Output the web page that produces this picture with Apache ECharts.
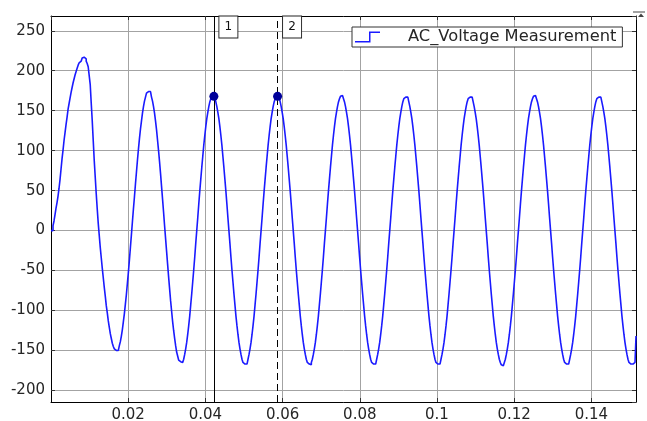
<!DOCTYPE html>
<html>
<head>
<meta charset="utf-8">
<script src="https://cdn.jsdelivr.net/npm/echarts@6/dist/echarts.min.js"></script>
<style>
  html, body { margin: 0; padding: 0; background: #fff; }
  #main { width: 647px; height: 421px; }
</style>
</head>
<body>
<div id="main"></div>
<script>
// scope trace, held samples (3840 samples per second)
var sampleTime = 0.00026042;
var voltage = [
  // start-up transient
  0, 0, 6, 12, 20, 28, 35, 43, 53, 64, 77, 90, 101, 113, 123, 133,
  142, 152, 159, 166, 173, 179, 185, 190, 195, 199, 203, 207, 210, 212, 214, 216,
  217, 217, 215, 212, 209, 205, 194, 183, 160, 138, 113, 88, 67, 46, 27, 9,
  -6, -21, -34, -47, -59, -71, -82, -94, -103, -113, -121, -129, -135, -141, -145, -148,
  -150, -151, -150, -148, -144, -139, -132, -124, -114, -104, -92, -80, -66, -52, -37, -21,
  -5, 11, 27, 42, 58, 73, 88, 102, 115, 127, 137, 147, 155, 162, 167, 172,
  174, 175, 174, 172, 167, 162, 155, 147, 137, 126, 113, 100, 86, 71, 55, 39,
  23, 6, -10, -26, -42, -58, -73, -88, -101, -114, -125, -135, -144, -152, -157, -162,
  -164, -166,
  // cycle 3
  -165, -164, -161, -155, -148, -140, -130, -119, -107, -93, -79, -64, -49, -33, -16,
  0, 16, 33, 49, 64, 79, 93, 107, 119, 130, 140, 148, 155, 161, 165, 167,
  168, 167, 165, 161, 155, 148, 140, 130, 119, 107, 93, 79, 64, 49, 33, 16,
  0, -16, -33, -49, -64, -79, -93, -107, -119, -130, -140, -148, -155, -161, -165, -167,
  // cycle 4
  -167, -167, -165, -161, -155, -148, -140, -130, -119, -107, -93, -79, -64, -49, -33, -16,
  0, 16, 33, 49, 64, 79, 93, 107, 119, 130, 140, 148, 155, 161, 165, 167,
  168, 167, 165, 161, 155, 148, 140, 130, 119, 107, 93, 79, 64, 49, 33, 16,
  0, -16, -33, -49, -64, -79, -93, -107, -119, -130, -140, -148, -155, -161, -165, -167,
  // cycle 5
  -169, -168, -165, -161, -155, -148, -140, -130, -119, -107, -93, -79, -64, -49, -33, -16,
  0, 16, 33, 49, 64, 79, 93, 107, 119, 130, 140, 148, 155, 161, 165, 168,
  169, 168, 165, 161, 155, 148, 140, 130, 119, 107, 93, 79, 64, 49, 33, 16,
  0, -16, -33, -49, -64, -79, -93, -107, -119, -130, -140, -148, -155, -161, -165, -167,
  // cycle 6
  -168, -167, -165, -161, -155, -148, -140, -130, -119, -107, -93, -79, -64, -49, -33, -16,
  0, 16, 33, 49, 64, 79, 93, 107, 119, 130, 140, 148, 155, 161, 165, 167,
  168, 167, 165, 161, 155, 148, 140, 130, 119, 107, 93, 79, 64, 49, 33, 16,
  0, -16, -33, -49, -64, -79, -93, -107, -119, -130, -140, -148, -155, -161, -165, -167,
  // cycle 7
  -168, -167, -165, -161, -155, -148, -140, -130, -119, -107, -93, -79, -64, -49, -33, -16,
  0, 16, 33, 49, 64, 79, 93, 107, 119, 130, 140, 148, 155, 161, 165, 167,
  168, 167, 165, 161, 155, 148, 140, 130, 119, 107, 93, 79, 64, 49, 33, 16,
  0, -16, -33, -49, -64, -79, -93, -107, -119, -130, -140, -148, -155, -161, -165, -168,
  // cycle 8
  -169, -168, -165, -161, -155, -148, -140, -130, -119, -107, -93, -79, -64, -49, -33, -16,
  0, 16, 33, 49, 64, 79, 93, 107, 119, 130, 140, 148, 155, 161, 165, 168,
  169, 168, 165, 161, 155, 148, 140, 130, 119, 107, 93, 79, 64, 49, 33, 16,
  0, -16, -33, -49, -64, -79, -93, -107, -119, -130, -140, -148, -155, -161, -165, -167,
  // cycle 9
  -167, -167, -165, -161, -155, -148, -140, -130, -119, -107, -93, -79, -64, -49, -33, -16,
  0, 16, 33, 49, 64, 79, 93, 107, 119, 130, 140, 148, 155, 161, 165, 167,
  168, 167, 165, 161, 155, 148, 140, 130, 119, 107, 93, 79, 64, 49, 33, 16,
  0, -16, -33, -49, -64, -79, -93, -107, -119, -130, -140, -148, -155, -161, -165, -167,
  // last trough and end of record
  -168, -167, -166, -165, -163, -132
];
var cursorTimes = [0.0422, 0.0587];
var cursorValues = [168, 168];
var cursorNames = ['1', '2'];
var seriesName = 'AC_Voltage Measurement';
var xRange = [0, 0.15156];
var yRange = [-214.5, 268.5];

var myChart = echarts.init(document.getElementById('main'));

var points = voltage.map(function (v, k) { return [k * sampleTime, v]; });
var font = 'DejaVu Sans';

function axisCommon(extra) {
  return Object.assign({
    type: 'value',
    axisLine: { show: true, onZero: false, lineStyle: { color: '#000', width: 1 } },
    axisTick: { show: true, inside: true, length: 4, lineStyle: { color: '#333' } },
    splitLine: { show: false }
  }, extra);
}

var option = {
  animation: false,
  backgroundColor: '#fff',
  grid: {
    left: 51, right: 11, top: 16, bottom: 19, show: false,
    containLabel: false, outerBoundsMode: 'none'
  },
  legend: {
    data: [seriesName],
    left: 352, top: 27,
    selectedMode: false,
    backgroundColor: '#fff',
    borderColor: '#333', borderWidth: 1, borderRadius: 0,
    padding: [2, 6, 2, 3],
    itemWidth: 25, itemHeight: 11,
    icon: 'path://M0,9.5L14,9.5L14,0L25,0L25,1.5L15.5,1.5L15.5,11L0,11Z',
    itemStyle: { borderWidth: 0 },
    textStyle: { fontFamily: font, fontSize: 16.3, color: '#262626', padding: [0, 0, 0, 23] }
  },
  xAxis: [
    axisCommon({
      position: 'bottom', min: xRange[0], max: xRange[1], interval: 0.02,
      splitLine: { show: true, lineStyle: { color: '#a3a3a3', width: 1 } },
      axisLabel: {
        fontFamily: font, fontSize: 15, color: '#262626', margin: 6,
        showMinLabel: false, showMaxLabel: false
      }
    }),
    axisCommon({
      position: 'top', min: xRange[0], max: xRange[1], interval: 0.02,
      axisLabel: { show: false }
    })
  ],
  yAxis: [
    axisCommon({
      position: 'left', min: yRange[0], max: yRange[1],
      splitNumber: 10, minInterval: 50, maxInterval: 50,
      splitLine: { show: true, lineStyle: { color: '#a3a3a3', width: 1 } },
      axisLabel: {
        fontFamily: font, fontSize: 15, color: '#262626', margin: 6,
        showMinLabel: false, showMaxLabel: false,
        formatter: function (v) { return v % 50 === 0 ? String(v) : ''; }
      }
    }),
    axisCommon({
      position: 'right', min: yRange[0], max: yRange[1],
      splitNumber: 10, minInterval: 50, maxInterval: 50,
      axisLabel: { show: false }
    })
  ],
  series: [
    {
      name: seriesName,
      type: 'line',
      step: 'end',
      data: points,
      showSymbol: false,
      color: '#1a1aff',
      lineStyle: { color: '#1a1aff', width: 1.6 },
      markLine: {
        silent: true,
        precision: 4,
        symbol: ['none', 'none'],
        label: { show: false },
        data: [
          { xAxis: cursorTimes[0], lineStyle: { color: '#000', width: 1, type: 'solid' } },
          { xAxis: cursorTimes[1], lineStyle: { color: '#000', width: 1, type: [7, 4] } }
        ]
      },
      markPoint: {
        silent: true,
        symbol: 'rect',
        symbolSize: [19, 22],
        symbolOffset: [14.5, 11],
        itemStyle: { color: '#fff', borderColor: '#222', borderWidth: 1 },
        label: { show: true, position: 'inside', formatter: '{b}', color: '#111', fontFamily: font, fontSize: 12 },
        data: cursorTimes.map(function (t, i) {
          return { name: cursorNames[i], coord: [t, yRange[1]] };
        })
      }
    },
    {
      name: 'cursors',
      type: 'scatter',
      symbol: 'circle',
      symbolSize: 9,
      itemStyle: { color: '#00009a', opacity: 1 },
      data: cursorTimes.map(function (t, i) { return [t, cursorValues[i]]; }),
      z: 5
    }
  ],
  graphic: [
    { type: 'line', shape: { x1: 633, y1: 12, x2: 645, y2: 12 }, style: { stroke: '#444', lineWidth: 1 } },
    { type: 'polygon', shape: { points: [[638, 17], [641, 13.5], [644, 17]] }, style: { fill: '#444' } }
  ]
};

myChart.setOption(option);
</script>
</body>
</html>
